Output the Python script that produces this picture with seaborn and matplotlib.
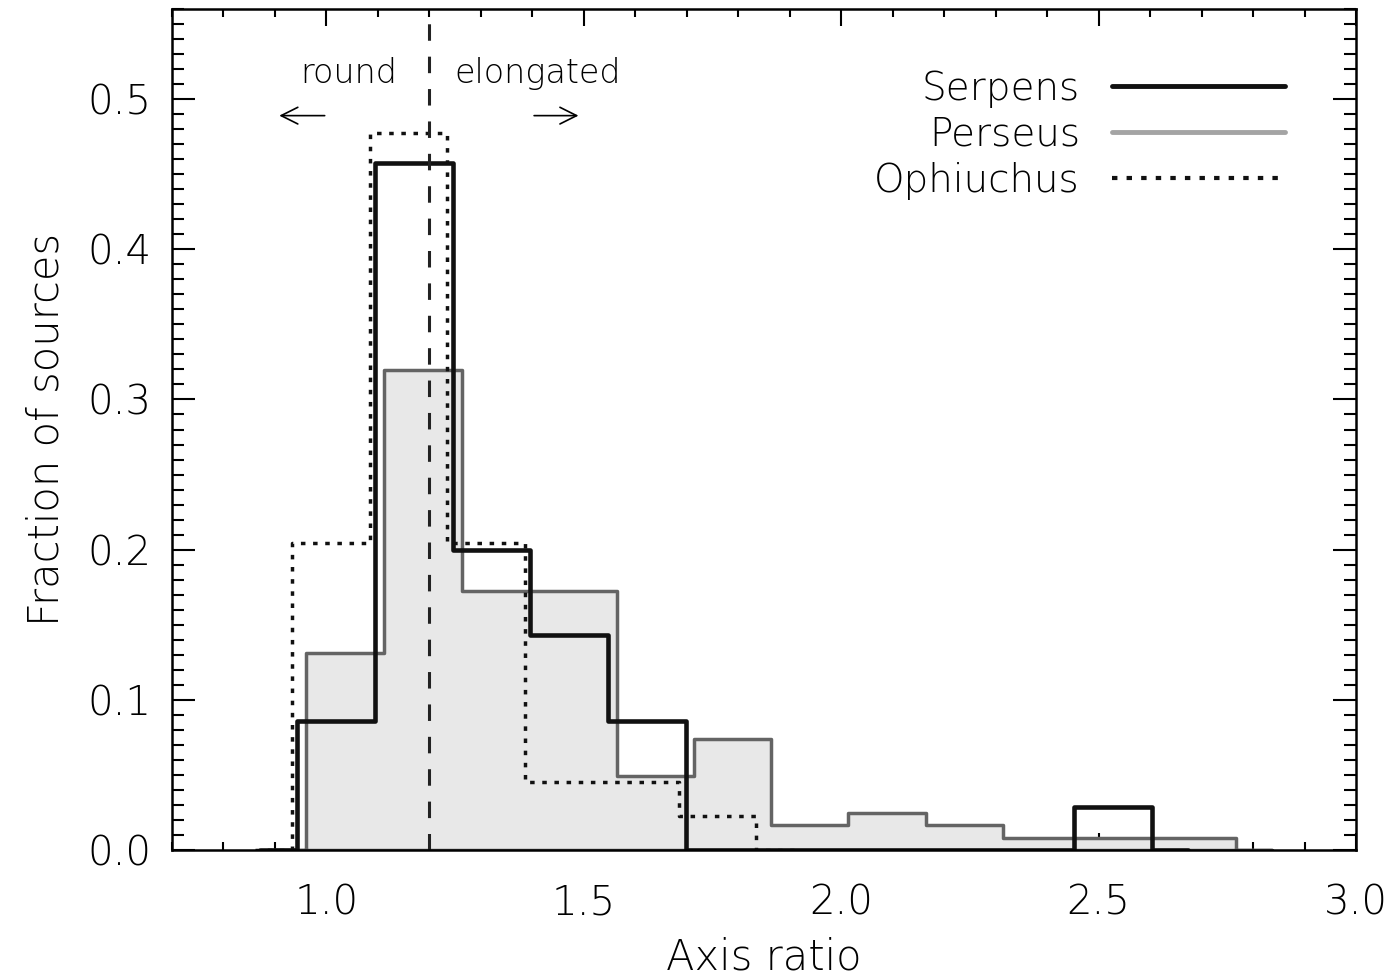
import numpy as np
import pandas as pd
import matplotlib.pyplot as plt
import seaborn as sns
from matplotlib.lines import Line2D
from matplotlib.ticker import MultipleLocator, FormatStrFormatter

# bin edges (half-width empty bins at both ends)
serpens_edges = [0.870, 0.943, 1.094, 1.245, 1.396, 1.547, 1.698, 1.849,
                 2.000, 2.151, 2.302, 2.453, 2.604, 2.673]
serpens_counts = [0, 3, 16, 7, 5, 3, 0, 0, 0, 0, 0, 1, 0]
serpens_total = 35

perseus_edges = [0.886, 0.961, 1.112, 1.263, 1.414, 1.564, 1.714, 1.864,
                 2.014, 2.164, 2.314, 2.464, 2.615, 2.766, 2.837]
perseus_counts = [0, 16, 39, 21, 21, 6, 9, 2, 3, 2, 1, 1, 1, 0]
perseus_total = 122

ophiuchus_edges = [0.862, 0.934, 1.084, 1.235, 1.385, 1.535, 1.685, 1.835, 1.909]
ophiuchus_counts = [0, 9, 21, 9, 2, 2, 1, 0]
ophiuchus_total = 44

split_ratio = 1.2


def hist_frame(edges, counts, total):
    edges = np.array(edges)
    centers = (edges[:-1] + edges[1:]) / 2
    return pd.DataFrame({'ratio': centers, 'frac': np.array(counts) / total})


df_serp = hist_frame(serpens_edges, serpens_counts, serpens_total)
df_pers = hist_frame(perseus_edges, perseus_counts, perseus_total)
df_oph = hist_frame(ophiuchus_edges, ophiuchus_counts, ophiuchus_total)

sns.set_theme(style='ticks')
plt.rcParams['font.family'] = ['DejaVu Sans']
plt.rcParams['font.weight'] = 'light'
plt.rcParams['axes.labelweight'] = 'light'
plt.rcParams['text.color'] = 'black'
plt.rcParams['axes.labelcolor'] = 'black'
plt.rcParams['xtick.color'] = 'black'
plt.rcParams['ytick.color'] = 'black'

dotted = (0, (1.3, 2.2))

fig = plt.figure(figsize=(13.95, 9.77), dpi=100)
ax = fig.add_axes([172 / 1395, 1 - 850 / 977, (1356 - 172) / 1395, (850 - 9) / 977])

sns.histplot(data=df_pers, x='ratio', weights='frac', bins=perseus_edges,
             element='step', fill=True, color='#e8e8e8', alpha=1,
             edgecolor='#646464', linewidth=2.5, ax=ax)
sns.histplot(data=df_oph, x='ratio', weights='frac', bins=ophiuchus_edges,
             element='step', fill=False, color='#111111', linewidth=2.5,
             linestyle=dotted, ax=ax)
sns.histplot(data=df_serp, x='ratio', weights='frac', bins=serpens_edges,
             element='step', fill=False, color='#111111', linewidth=3.3, ax=ax)

ax.axvline(split_ratio, color='#222222', linewidth=2.2, linestyle=(0, (5.4, 5.2)))

ax.set_xlim(0.7, 3.0)
ax.set_ylim(0, 0.56)
ax.set_xticks([1.0, 1.5, 2.0, 2.5, 3.0])
ax.xaxis.set_minor_locator(MultipleLocator(0.1))
ax.yaxis.set_major_locator(MultipleLocator(0.1))
ax.yaxis.set_minor_locator(MultipleLocator(0.01))
ax.xaxis.set_major_formatter(FormatStrFormatter('%.1f'))
ax.yaxis.set_major_formatter(FormatStrFormatter('%.1f'))

ax.tick_params(axis='both', which='both', direction='in', top=True, right=True,
               width=1.5, color='black', labelsize=29, labelcolor='black')
ax.tick_params(axis='x', which='major', length=12, pad=24)
ax.tick_params(axis='x', which='minor', length=6)
ax.tick_params(axis='y', which='major', length=16.5, pad=15)
ax.tick_params(axis='y', which='minor', length=8.5)
for s in ax.spines.values():
    s.set_linewidth(1.8)
    s.set_color('black')

ax.set_xlabel('Axis ratio', fontsize=30, labelpad=10)
ax.set_ylabel('Fraction of sources', fontsize=30, labelpad=15)

ax.text(1.043, 0.517, 'round', fontsize=24, ha='center', va='center')
ax.text(1.411, 0.517, 'elongated', fontsize=24, ha='center', va='center')
ax.annotate('', xy=(0.903, 0.489), xytext=(1.002, 0.489),
            arrowprops=dict(arrowstyle='->', lw=1.2, color='black', mutation_scale=30))
ax.annotate('', xy=(1.495, 0.489), xytext=(1.398, 0.489),
            arrowprops=dict(arrowstyle='->', lw=1.2, color='black', mutation_scale=30))

handles = [
    Line2D([], [], color='#111111', linewidth=3.5),
    Line2D([], [], color='#a4a4a4', linewidth=3.5),
    Line2D([], [], color='#111111', linewidth=3.0, linestyle=dotted),
]
ax.legend(handles, ['Serpens', 'Perseus', 'Ophiuchus'], loc='upper right',
          bbox_to_anchor=((1285 - 172) / 1184, (850 - 70) / 841),
          frameon=False, markerfirst=False, fontsize=28, handlelength=4.45,
          handletextpad=0.82, labelspacing=0.2, borderpad=0, borderaxespad=0)

plt.savefig('out.png', dpi=100)
